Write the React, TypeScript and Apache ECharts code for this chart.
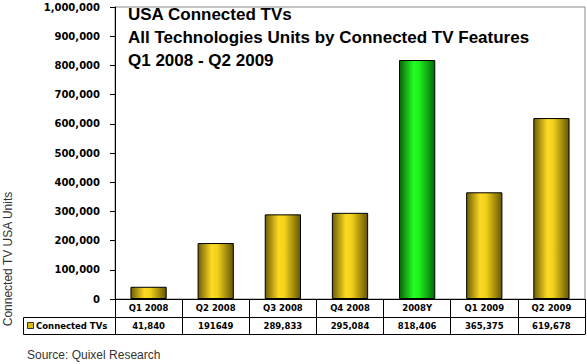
import React, { useEffect, useRef } from 'react';
import * as echarts from 'echarts';

const categories = ['Q1 2008', 'Q2 2008', 'Q3 2008', 'Q4 2008', '2008Y', 'Q1 2009', 'Q2 2009'];
const values = [41840, 191649, 289833, 295084, 818406, 365375, 619678];
const tableLabels = ['41,840', '191649', '289,833', '295,084', '818,406', '365,375', '619,678'];
const highlightCategory = '2008Y';
const titleLines = ['USA Connected TVs', 'All Technologies Units by Connected TV Features', 'Q1 2008 - Q2 2009'];
const seriesName = 'Connected TVs';
const yAxisName = 'Connected TV USA Units';
const sourceText = 'Source: Quixel Research';

const yellow = () =>
  new echarts.graphic.LinearGradient(0, 0, 1, 0, [
    { offset: 0, color: '#6e5e04' },
    { offset: 0.38, color: '#fcd922' },
    { offset: 0.55, color: '#f2d11c' },
    { offset: 1, color: '#665600' },
  ]);
const green = () =>
  new echarts.graphic.LinearGradient(0, 0, 1, 0, [
    { offset: 0, color: '#0a640a' },
    { offset: 0.4, color: '#22ff22' },
    { offset: 0.55, color: '#1df21d' },
    { offset: 1, color: '#066a06' },
  ]);

export default function App() {
  const ref = useRef<HTMLDivElement>(null);
  useEffect(() => {
    if (!ref.current) return;
    const chart = echarts.init(ref.current, null, { renderer: 'svg' });
    const tableFont = { fontFamily: 'DejaVu Sans', fontWeight: 'bold' as const, fontSize: 8.5, color: '#000' };
    chart.setOption({
      animation: false,
      backgroundColor: '#fff',
      title: {
        text: titleLines.join('\n'),
        left: 128,
        top: 3,
        padding: 0,
        textStyle: {
          fontFamily: 'Liberation Sans',
          fontWeight: 'bold',
          fontSize: 17,
          lineHeight: 23,
          color: '#000',
        },
      },
      grid: {
        left: 115,
        right: 2,
        top: 7,
        bottom: 65,
        show: true,
        borderColor: '#8a8a8a',
        borderWidth: 1,
        backgroundColor: '#fff',
      },
      xAxis: [
        {
          type: 'category',
          data: categories,
          position: 'bottom',
          axisLine: { show: true, lineStyle: { color: '#000', width: 1 } },
          axisTick: { show: true, length: 35, interval: 0, lineStyle: { color: '#000' } },
          axisLabel: { ...tableFont, margin: 4, interval: 0 },
          splitLine: { show: false },
        },
        {
          type: 'category',
          data: tableLabels,
          position: 'bottom',
          offset: 18,
          axisLine: { show: true, lineStyle: { color: '#000', width: 1 } },
          axisTick: { show: false },
          axisLabel: { ...tableFont, margin: 4, interval: 0 },
        },
        {
          type: 'category',
          data: categories,
          position: 'bottom',
          offset: 35,
          axisLine: { show: true, lineStyle: { color: '#000', width: 1 } },
          axisTick: { show: false },
          axisLabel: { show: false },
        },
      ],
      yAxis: {
        type: 'value',
        min: 0,
        max: 1000000,
        interval: 100000,
        axisLine: { show: true, lineStyle: { color: '#000' } },
        axisTick: { show: true, length: 5, inside: false, lineStyle: { color: '#000' } },
        splitLine: { show: false },
        axisLabel: {
          fontFamily: 'DejaVu Sans',
          fontWeight: 'bold',
          fontSize: 10,
          color: '#000',
          margin: 15,
          formatter: (v: number) => v.toLocaleString('en-US'),
        },
      },
      series: [
        {
          name: seriesName,
          type: 'bar',
          xAxisIndex: 0,
          barWidth: '54%',
          data: values.map((v, i) => ({
            value: v,
            itemStyle: {
              color: categories[i] === highlightCategory ? green() : yellow(),
              borderColor: '#000',
              borderWidth: 1,
            },
          })),
        },
      ],
      graphic: [
        {
          type: 'rect',
          shape: { x: 23.5, y: 317.5, width: 92, height: 17 },
          style: { fill: 'none', stroke: '#000', lineWidth: 1 },
        },
        {
          type: 'rect',
          shape: { x: 27.5, y: 322.5, width: 6, height: 6 },
          style: { fill: '#d8bb10', stroke: '#333', lineWidth: 1 },
        },
        {
          type: 'text',
          x: 36,
          y: 326,
          style: {
            text: seriesName,
            fontFamily: 'DejaVu Sans',
            fontWeight: 'bold',
            fontSize: 8.5,
            fill: '#000',
            verticalAlign: 'middle',
            align: 'left',
          },
        },
        {
          type: 'text',
          x: 8,
          y: 259,
          rotation: Math.PI / 2,
          style: {
            text: yAxisName,
            fontFamily: 'Liberation Sans',
            fontSize: 12,
            fill: '#333',
            align: 'center',
            verticalAlign: 'middle',
          },
        },
        {
          type: 'text',
          x: 27,
          y: 355,
          style: {
            text: sourceText,
            fontFamily: 'Liberation Sans',
            fontSize: 12,
            fill: '#333',
            align: 'left',
            verticalAlign: 'middle',
          },
        },
      ],
    });
    return () => chart.dispose();
  }, []);
  return (
    <div
      ref={ref}
      style={{ position: 'absolute', left: 0, top: 0, width: 587, height: 364 }}
    />
  );
}
